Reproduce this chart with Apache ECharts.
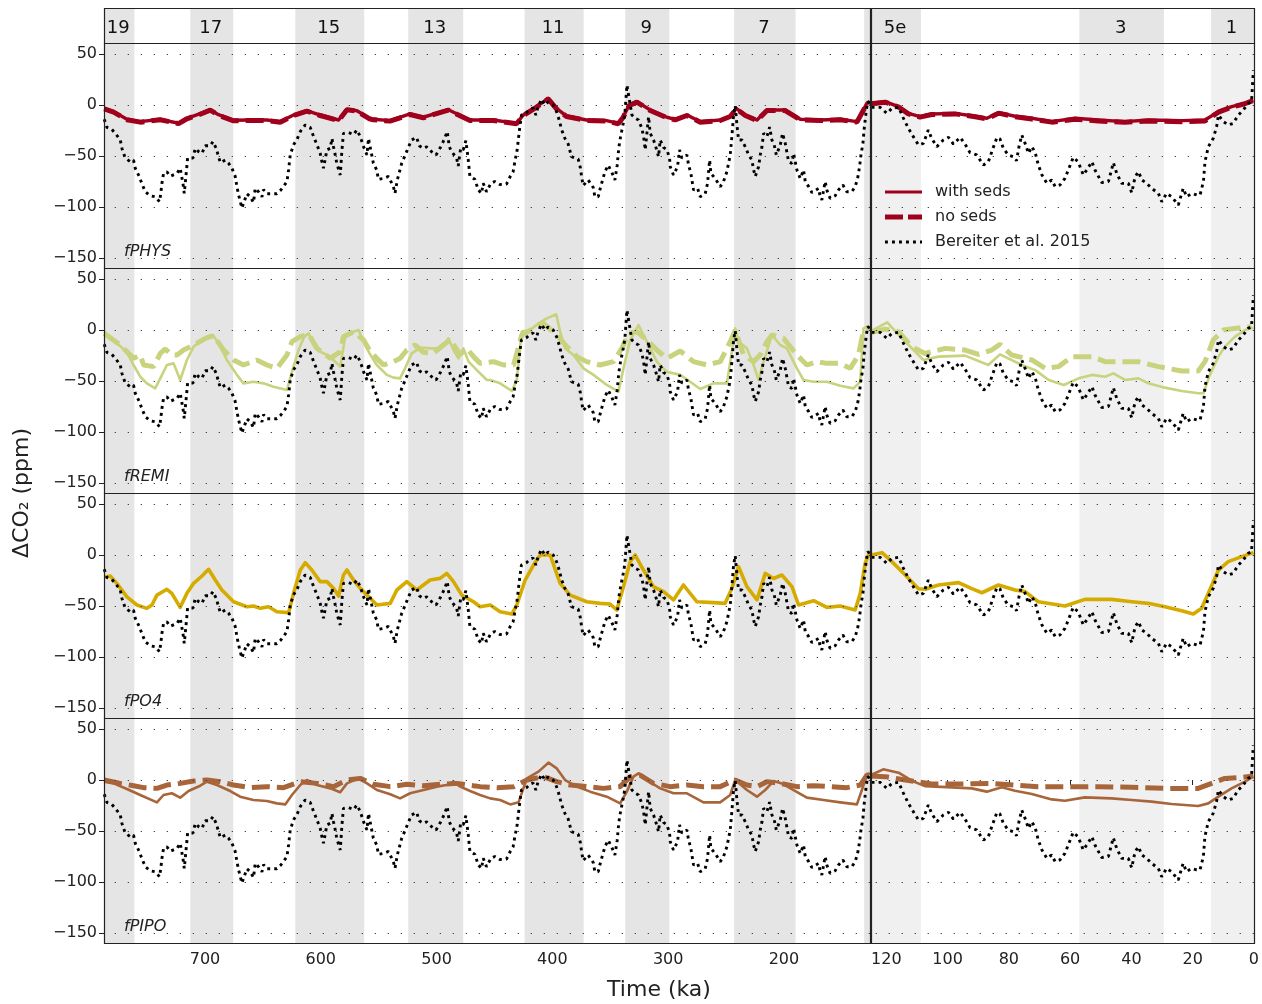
<!DOCTYPE html>
<html><head><meta charset="utf-8">
<script src="https://cdn.jsdelivr.net/npm/echarts@6/dist/echarts.min.js"></script>
<style>html,body{margin:0;padding:0;background:#fff}#c{width:1262px;height:1004px}</style>
</head><body><div id="c"></div>
<script>
// ---------------- DATA ----------------
const yTicks = [-150, -100, -50, 0, 50];
const xTicksLeft = [700, 600, 500, 400, 300, 200];
const xTicksRight = [120, 100, 80, 60, 40, 20, 0];

const bandsLeft = [[787.2,761],[712.7,675.6],[622,562.5],[524.5,477],[424,373],[337,299],[243,190],[130.7,125.7]];
const bandLabelsLeft = ['19','17','15','13','11','9','7',''];
const bandsRight = [[125,108.7],[57,29.4],[14,0]];
const bandLabelsRight = ['5e','3','1'];

const panelNames = ['fPHYS','fREMI','fPO4','fPIPO'];

const bereiterLeft = [[787,-14],[784.7,-21.9],[780.4,-23.9],[777.5,-27.8],[773.2,-34],[771.7,-42.5],[768.9,-52],[764.5,-55.6],[761.7,-54],[760.2,-62],[757.4,-68.6],[754.5,-76.8],[751.6,-85],[747.3,-89],[743,-90],[739.2,-94.8],[738,-85],[737.2,-77],[735.8,-67],[732.9,-65.6],[730,-69.9],[724.2,-67],[721.4,-62],[719,-77],[717.9,-86.6],[715.6,-59.8],[715,-52],[710.4,-52],[708.4,-42.5],[705.5,-45.7],[702.6,-47.4],[699.8,-40],[695.5,-40],[693.1,-35.9],[690.3,-42.5],[686.8,-56.5],[682.5,-54],[679.7,-57],[676.7,-62],[673.9,-70],[672.4,-80],[671,-88],[668.1,-101],[666.7,-102],[663.8,-87],[660.9,-90],[658.1,-95.6],[656.6,-81.7],[653.8,-85],[650.8,-90],[649.4,-83],[646.5,-87],[642.2,-87],[637.9,-87],[635,-84],[632.2,-80],[629.2,-75],[627.8,-63.7],[626.4,-49],[623.5,-39],[620.6,-34],[617.7,-26],[613.4,-19.6],[609.1,-22],[606.2,-31],[603.3,-39],[600.5,-47.4],[599,-55.6],[597.6,-62],[594.7,-44],[591.8,-42.5],[590.4,-32.7],[589,-41],[587.5,-49],[586.1,-57.5],[583.2,-68.6],[581.7,-44],[580.4,-27.8],[576,-27],[571.7,-29],[568.8,-24.5],[565.9,-31],[563,-41],[560.1,-49],
[558.8,-32.7],[557.4,-41],[554.6,-57],[551.7,-63.7],[550.2,-72.9],[545.9,-72],[541.6,-70],[537.3,-80],[535.9,-86.6],[533.9,-73.5],[530.2,-57.5],[527.3,-49.7],[524.4,-41.5],[521.6,-34.3],[517.2,-31.7],[514.9,-40],[511.5,-42.5],[508.6,-41],[504.3,-45.8],[500.5,-49],[497.1,-42.5],[493.6,-34.3],[490.8,-26],[489,-41],[487,-45.8],[482.7,-52],[481.3,-59.8],[479.2,-42.5],[477,-44],[474.7,-35],[472.7,-53],[471.2,-70],[466.9,-72.9],[464,-83.3],[461.2,-86.6],[459.7,-76.8],[456.9,-85],[453.1,-76.8],[449.7,-75],[445.4,-78],[439.6,-77.5],[436.2,-69.6],[433.9,-65.4],[432.4,-55.6],[430.4,-44],[428.7,-27],[426.7,-9.8],[422.4,-7.5],[419.5,-4.2],[416.6,-3],[414.3,-9.8],[412.3,-1.6],[409.4,5.6],[406.5,0],[403.6,3],[399.3,0],[396.4,-6.5],[394.1,-14.7],[392.1,-23.9],[389.2,-32.7],[386.3,-38.3],[383.5,-50.7],[377.7,-53],[375.7,-62],[374.8,-70],[373.4,-79],[369.1,-73.5],[364.7,-80.9],[363.3,-89.9],[360.4,-89.9],[358.4,-80.7],[354.6,-65.4],[351.8,-59],[348.9,-65.4],[346,-73.5],[344.5,-75],[344,-59],[343.1,-47.4],[342.3,-39.3],[341.1,-31],[338.8,-18],[337.4,-8.8],
[335.6,19.6],[334.2,9.8],[331.3,-9.8],[328.5,-13],[325.6,-14.7],[322.7,-23],[321.2,-31],[319.8,-44],[316.9,-11.4],[315.5,-27.8],[312.6,-34.3],[310.3,-42.5],[308.3,-50.7],[306.9,-34.3],[304,-41.5],[301.1,-44],[298.8,-52],[298.2,-60.5],[295.4,-68.6],[291.9,-60.5],[290.2,-44],[288.2,-52],[283.8,-49],[282.4,-58.8],[280.4,-67],[278.1,-83.3],[274.6,-81.7],[272.3,-89.9],[268,-87],[266,-76.8],[264.2,-54],[263.1,-67],[259.4,-72],[255,-80],[252.2,-75],[249.3,-65.4],[246.4,-49],[245,-31],[243.5,-9.8],[242.1,-0.7],[240.6,-19.6],[239.2,-34.3],[236.3,-34.3],[233.4,-41],[230.5,-49],[227.7,-54],[226.2,-63.7],[224.8,-70],[223.3,-71.5],[221.9,-60.5],[220.5,-49],[219,-41],[217.6,-27.8],[214.7,-31],[212.4,-21.6],[210.4,-34.3],[208.4,-39.3],[206.6,-49],[203.2,-39.3],[201.2,-27.8],[198.9,-37.5],[196,-55.6],[193.1,-57.2],[191.7,-47.4],[188.8,-63.7],[185.9,-72],[183.1,-63.7],[181.6,-75],[178.7,-80],[175.9,-85.8],[170.1,-81.7],[168.7,-89.9],[167.3,-93],[164.4,-75],[163,-83.3],[160.1,-91.5],[155.8,-89],[152.9,-83.3],[149.1,-78.4],[145.7,-85],[141.4,-85],[138.5,-80],[136.4,-72],[134.7,-60.5],[133.5,-49],[131.8,-37.5],[130.7,-23],[129.2,-8.2],[127.8,3.3],[125.5,1.6]];

const bereiterRight = [[124.8,-2.3],[122,-2.3],[119.8,-8.2],[118.2,-3.3],[116,-2.3],[114.4,-13],[112.8,-22.9],[111.2,-31],[109.5,-39.2],[107.9,-37.6],[106.3,-24.5],[105.2,-32.7],[103.5,-40.8],[101.4,-34.3],[99.7,-31.7],[98.1,-38.3],[95.9,-31.7],[94.3,-38.3],[92.7,-46.7],[90.5,-49],[88.3,-58.8],[86.7,-55.6],[85.6,-46],[83.9,-31.7],[82.9,-33.3],[81.8,-42.5],[80.2,-49],[78.5,-50.7],[77.5,-54.6],[76.7,-40.8],[75.8,-29.4],[74.7,-37.6],[73.6,-47.4],[72.5,-40.8],[71.4,-46.7],[70.4,-58.8],[69.2,-68.6],[67.6,-76.8],[66,-73.5],[64.9,-80],[63.3,-78.4],[61.7,-71.9],[60.6,-63.7],[59,-51.3],[57.4,-55.6],[55.7,-68.6],[54.6,-63.7],[52.9,-55.6],[51.9,-63.7],[49.7,-76],[47.5,-75],[45.9,-56.5],[44.8,-67],[43.2,-76.8],[41,-76.8],[39.9,-86],[38.8,-70.4],[37.7,-65.4],[36.6,-73.5],[35,-76.8],[33.4,-81.7],[31.2,-86.6],[30.1,-94.8],[28.5,-86.6],[26.9,-89.9],[24.7,-98],[23.1,-81.7],[22,-89.9],[20.3,-86.6],[18.7,-88.2],[17.6,-88.2],[16.5,-75],[16,-55.6],[14.9,-40.8],[13.3,-32.7],[12.2,-21.2],[11.6,-9.8],[10,-16.3],[8.4,-19.6],[6.8,-18],[5.1,-9.8],[3.5,-4.9],[1.9,1.6],[0.8,3.3],[0.6,4.9],[0.2,34]];

const physWithLeft = [[787,-3.3],[778.9,-6.5],[767.4,-14],[755.9,-16.3],[738.6,-14],[722.8,-17.9],[715.6,-13],[704.1,-8.5],[695.5,-4.6],[688.3,-9.5],[675.3,-15],[660.9,-14.7],[646.5,-14.7],[635,-16.3],[623.5,-9.8],[612,-5.6],[600.5,-9.8],[584.6,-14.7],[577.4,-4.2],[568.8,-5.6],[557.9,-13],[554.6,-14],[540.2,-15.3],[522.9,-8.8],[511.5,-12],[489.9,-4.6],[471.2,-14.7],[451.1,-14.7],[430.9,-18],[425.1,-9.8],[413.6,-1.6],[403.6,6.5],[396.4,-3.3],[387.8,-10.8],[370.5,-14.7],[353.2,-15.3],[343.1,-18],[338.8,-11.4],[333.6,0],[327,3.3],[315.5,-4.9],[301.1,-12],[293.9,-14],[283.8,-9.8],[272.3,-16.3],[255,-14.7],[246.4,-10.8],[241.2,-3.3],[233.4,-9.8],[223.3,-14.7],[214.7,-4.9],[206,-4.9],[198.9,-4.9],[185.9,-14],[168.7,-14.7],[151.4,-14],[137,-16.3],[128.4,1.6],[125.7,3]];
const physNoLeft = [[787,-3.8],[778.9,-7],[767.4,-14.5],[755.9,-16.8],[738.6,-14.5],[722.8,-18.2],[715.6,-13.5],[704.1,-9],[695.5,-5],[688.3,-10],[675.3,-15.5],[660.9,-15.2],[646.5,-15.2],[635,-16.8],[623.5,-10.3],[612,-6],[600.5,-10.3],[584.6,-15.2],[577.4,-4.7],[568.8,-6],[557.9,-13.5],[554.6,-14.5],[540.2,-15.8],[522.9,-9.3],[511.5,-12.5],[489.9,-5],[471.2,-15.2],[451.1,-15.2],[430.9,-18.4],[425.1,-10.3],[413.6,-2],[403.6,6],[396.4,-3.8],[387.8,-11.3],[370.5,-15.2],[353.2,-15.8],[343.1,-18.4],[338.8,-11.9],[333.6,-0.5],[327,2.8],[315.5,-5.4],[301.1,-12.5],[293.9,-14.5],[283.8,-10.3],[272.3,-16.8],[255,-15.2],[246.4,-11.3],[241.2,-3.8],[233.4,-10.3],[223.3,-15.2],[214.7,-5.4],[206,-5.4],[198.9,-5.4],[185.9,-14.5],[168.7,-15.2],[151.4,-14.5],[137,-16.8],[128.4,1.1],[125.7,2.5]];
const physWithRight = [[125,1.6],[120.4,3.3],[116,-1.6],[112.8,-8.2],[109,-11.4],[105.2,-8.8],[97.6,-8.2],[91,-11],[87.2,-13],[83.4,-7.5],[78,-11],[72.5,-13],[66,-16.3],[58.4,-13],[50.8,-14.7],[42.1,-16.3],[34.5,-14.7],[23.6,-15.3],[16,-14.7],[11.6,-6.5],[7.3,-1.6],[3,1.6],[0.2,4.9]];
const physNoRight = [[125,1.2],[120.4,2.8],[116,-2],[112.8,-8.7],[109,-11.9],[105.2,-9.3],[97.6,-8.7],[91,-11.5],[87.2,-13.5],[83.4,-8],[78,-11.5],[72.5,-13.8],[66,-16.8],[58.4,-14],[50.8,-15.7],[42.1,-16.8],[34.5,-15.7],[23.6,-16.3],[16,-15.7],[11.6,-7],[7.3,-2],[3,1.2],[0.2,4.5]];

const remiWithLeft = [[787,-1.6],[778.9,-9.8],[767.4,-21.9],[761.7,-34.3],[755.9,-45.8],[750.2,-52.3],[743,-57.2],[738.6,-47.4],[732.9,-34.3],[727.1,-32.7],[721.4,-49],[715.6,-29.4],[709.8,-16.3],[704.1,-10.8],[698.3,-7.5],[693.1,-4.9],[688.3,-13],[681.1,-29.4],[672.4,-44],[666.7,-52.3],[658.1,-50.7],[649.4,-52.3],[640.8,-55.6],[629.2,-58.8],[624.9,-41],[619.2,-19.6],[614.3,-6.5],[610.5,-3.3],[606.2,-14.7],[600.5,-21.2],[594.7,-24.5],[589,-29.4],[583.2,-35.9],[578.9,-6.5],[571.7,-1.6],[567.4,0],[563,-11.4],[557.9,-22.9],[551.6,-34.3],[543,-44],[537.2,-46.7],[531.5,-47.4],[527.2,-37.5],[521.4,-22.9],[514.2,-17.3],[505.6,-18],[499.8,-18],[494.1,-14.7],[489.7,-8.2],[485.4,-19.6],[481.1,-27.8],[476.8,-18],[472.4,-31],[465.2,-39.3],[456.6,-49],[453.7,-49],[445.1,-52.3],[435,-59.8],[430.7,-49],[426.4,-1.6],[419.2,0],[412,6.5],[404.8,11.4],[396.7,15.4],[393.3,-1.6],[389,-18],[381.8,-24.5],[373.1,-37.6],[364.5,-44],[353,-53.9],[342.9,-60.5],[338.6,-37.6],[332.8,-9.8],[325.6,4.9],[318.4,-11.4],[309.8,-31],[301.1,-41],[289.6,-44],[281,-50.7],[272.3,-57.9],[260.8,-52.3],[249.3,-52.3],[245,-21.2],[242.1,1.6],[239.2,-11.4],[232,-18],[226.2,-34.3],[221.9,-49],[217.6,-31],[210.4,-4.9],[203.2,-14.7],[197.5,-18],[188.8,-37.6],[183.1,-49],[174.4,-50.7],[162.9,-50.7],[151.4,-54.6],[139.9,-57.2],[134.1,-50.7],[131.3,1.6],[128.4,3.3]];
const remiNoLeft = [[787,-3.3],[773.2,-14.7],[761.7,-27.8],[755.9,-24.5],[753,-34.3],[744.4,-35.9],[738.6,-22.9],[734.3,-18.6],[728.6,-24.5],[724.2,-24.5],[718.5,-19.6],[709.8,-14.7],[698.3,-7.5],[692.5,-5.6],[683.9,-19.6],[675.3,-29.4],[666.7,-34.3],[655.2,-29.4],[646.5,-34.3],[637.9,-37.6],[629.2,-24.5],[624.9,-11.4],[617.7,-6.5],[610.5,-4.2],[603.3,-18],[591.8,-27.8],[583.2,-21.2],[580.4,-6.5],[571.7,-1.6],[563,-9.8],[557.3,-21.2],[551.6,-27.8],[545.8,-34.3],[537.2,-31],[531.5,-27.8],[525.7,-19.6],[518.5,-14.7],[511.3,-21.9],[502.7,-22.9],[494.1,-14.7],[488.3,-9.8],[479.6,-23.9],[473.9,-18],[468.1,-26.1],[462.3,-32.7],[450.8,-31],[442.1,-34.3],[433.5,-34.3],[426.4,-4.9],[416.3,1.6],[407.7,6.5],[396.2,-4.9],[387.5,-16.3],[378.9,-26.1],[370.3,-31],[358.8,-34.3],[347.2,-31],[340,-18],[334.3,-3.3],[327.1,-1.6],[318.4,-9.8],[309.8,-19.6],[301.1,-27.8],[289.6,-20.6],[278.1,-31],[266.6,-34.3],[255,-31],[246.4,-11.4],[242.1,0],[234.9,-24.5],[226.2,-31],[220.5,-24.5],[214.7,-11.4],[210.4,-4.9],[200.3,-8.2],[188.8,-24.5],[180.2,-34.3],[171.5,-31],[162.9,-32.7],[151.4,-32.7],[142.8,-37.6],[135.6,-24.5],[131.3,0],[126,3]];
const remiWithRight = [[124.7,-0.7],[119.7,7.5],[115.9,-4.9],[107.9,-29.4],[103,-26.1],[94.3,-25.1],[86.7,-34.3],[82.9,-23.9],[75.8,-34.3],[71.4,-39.3],[67,-49],[62.1,-53.9],[57.2,-47.4],[52.9,-44],[48.6,-45.8],[45.9,-42.5],[42.1,-49],[37.7,-47.4],[34.5,-52.3],[29.1,-56.5],[23.6,-59.8],[18.2,-62],[16.5,-62],[14.4,-44],[11.6,-26.1],[9.5,-16.3],[6.2,-6.5],[2.9,0],[0.2,2.3]];
const remiNoRight = [[124.7,-2.3],[120.4,0.9],[116,-1.6],[111.7,-16.3],[107.4,-23],[100.8,-18],[94.3,-19.6],[89.9,-23.9],[85.6,-19.6],[82.9,-14],[79.1,-24.5],[72.5,-29.4],[68.1,-37.6],[63.8,-35.9],[59.4,-26.1],[52.9,-26.1],[48.6,-31],[42.1,-31],[37.7,-31],[31.2,-35.9],[23.6,-40.2],[18.2,-40.2],[16,-31],[13.3,-9.8],[10,0],[6.2,1.6],[0.8,3.3]];

const po4WithLeft = [[787,-21.9],[781.8,-20.6],[776.1,-27.8],[767.4,-41],[758.8,-49],[750.2,-52.3],[745.8,-49],[741.5,-39.3],[732.9,-33.6],[728.6,-37.6],[721.4,-51.3],[715.6,-37.6],[709.8,-27.8],[702.6,-20.6],[696.9,-14],[691.1,-24.5],[685.4,-34.3],[675.3,-45.8],[663.8,-50.7],[658.1,-50],[652.3,-52.3],[645.1,-50.7],[637.9,-55.6],[627.8,-56.5],[623.5,-37.6],[617.7,-14.7],[613.4,-7.5],[607.7,-14.7],[600.5,-26.1],[594.7,-26.1],[589,-32.7],[584.6,-40.2],[580.4,-19.6],[577.4,-14.7],[571.7,-24.5],[565.9,-32.7],[560.1,-39.3],[551.5,-49],[540,-47.4],[534.3,-34.3],[525.7,-26.1],[517.1,-34.3],[505.6,-24.5],[497,-22.9],[491.2,-18],[485.4,-26.1],[478.2,-39.3],[468.1,-45.8],[462.4,-50.7],[453.7,-49],[445.1,-55.6],[435,-57.9],[430.7,-49],[423.5,-24.5],[416.3,-9.8],[410.6,0],[401.9,0],[393.3,-27.8],[384.6,-39.3],[370.3,-45.8],[358.8,-47.4],[350.2,-48],[344.4,-53.9],[338.6,-31],[332.8,-6.5],[328.5,0],[321.3,-14.7],[312.7,-31],[304,-35.9],[295.4,-44],[286.8,-29.4],[275.3,-45.8],[260.8,-46.7],[250.8,-47.4],[245,-32.7],[239.2,-11.4],[232,-31],[223.3,-44],[216.2,-18],[209,-23],[201.8,-19.6],[193.1,-31],[187.4,-49],[174.4,-44.8],[162.9,-51.3],[151.4,-50],[138.5,-53.9],[134.1,-37.6],[129.9,-8.2],[125.7,3.3]];
const po4WithRight = [[125,0],[121.4,2.3],[118.2,-6.5],[113.8,-19.6],[109.5,-33],[107.3,-33.6],[103,-29.4],[96.4,-27.1],[92.1,-33],[88.8,-37],[83.4,-29.4],[78,-34.3],[74.7,-35.9],[70.4,-45.8],[61.7,-50],[55.2,-43.5],[46.5,-43.5],[39.9,-45.8],[34.5,-47.4],[29.1,-50.7],[23.6,-54.6],[19.8,-57.9],[17.1,-52.3],[14.9,-37.6],[11.6,-14.7],[8.4,-6.5],[4,-1.6],[0.2,2.3]];

const pipoWithLeft = [[787,-1.6],[778.9,-3.3],[767.4,-8.8],[755.9,-14.7],[741.5,-21.9],[735.8,-14.7],[728.6,-13],[721.4,-17.3],[714.2,-10.8],[704.1,-5.6],[698.3,-1.6],[689.7,-4.9],[678.2,-10.8],[669.6,-16.3],[658.1,-19.6],[646.5,-20.6],[637.9,-22.9],[630.7,-23.9],[624.9,-14.7],[617.7,-4.9],[612,0],[603.3,-4.9],[591.8,-8.2],[583.2,-12],[577.4,-3.3],[567.4,1.6],[560.1,-3.3],[551.5,-9.8],[540,-14],[531.5,-18],[522.8,-13],[511.3,-9.8],[499.8,-6.5],[491.2,-4.9],[485.4,-1.6],[479.6,-6.5],[471,-10.8],[462.4,-14.7],[453.7,-18],[445.1,-19.6],[436.4,-23.9],[429.2,-21.9],[422,1.6],[412,8.2],[403.4,17],[396.2,11.4],[389,0],[378.9,-6.5],[367.4,-11.4],[353,-16.3],[341.5,-22.9],[335.7,-11.4],[330,3.3],[325.6,6.5],[318.4,0],[306.9,-8.2],[295.4,-13],[283.8,-13],[269.5,-21.9],[255.1,-21.9],[246.4,-14.7],[242.1,0],[232,-9.8],[223.3,-16.3],[216.2,-9.8],[209,-1],[201.8,-3.3],[191.7,-9.8],[180.2,-17.3],[165.8,-19.6],[151.4,-21.9],[137,-23.9],[132.7,-9.8],[128.4,4.9],[125.7,6.5]];
const pipoNoLeft = [[787,0],[773.2,-3.3],[761.7,-5.6],[753,-7.5],[741.5,-8.2],[732.9,-4.9],[721.4,-3.3],[709.8,-1],[698.3,0],[686.8,-1.6],[675.3,-4.9],[660.9,-7.5],[646.5,-6.5],[632.2,-7.5],[617.7,-1.6],[603.3,-3.3],[589,-6.5],[577.4,0],[565.9,1.6],[554.4,-4.2],[540,-6.5],[525.7,-4.2],[511.3,-5.6],[497,-4.2],[482.5,-3.3],[468.1,-5.6],[462.3,-6.5],[447.9,-7.5],[433.5,-6.5],[422,0],[407.7,3.3],[396.2,-1.6],[384.6,-4.9],[370.3,-6.5],[355.9,-8.2],[341.5,-6.5],[332.8,3.3],[324.2,4.9],[312.7,-3.3],[298.2,-6.5],[283.8,-4.9],[269.5,-6.5],[255.1,-6.5],[242.1,0],[232,-4.9],[223.3,-6.5],[214.7,-1.6],[203.2,-3.3],[188.8,-6.5],[174.4,-5.6],[160,-6.5],[145.7,-7.5],[134.1,-4.9],[128.4,4.9],[125.7,5]];
const pipoWithRight = [[125,4.9],[121,10.5],[116,7.2],[111.7,-0.7],[107.4,-6],[98.6,-7.2],[92.1,-8.2],[87.2,-11.4],[82.3,-7.2],[78,-10.5],[72.5,-13.7],[66,-19],[61.7,-20.3],[55.2,-17],[46.5,-18],[39.9,-19.6],[33.4,-21.2],[26.9,-23.5],[18.2,-25.5],[14.9,-22.9],[11.6,-16.3],[7.3,-8.2],[2.9,-1.6],[0.2,3.3]];
const pipoNoRight = [[125,3.9],[120.4,3.3],[113.8,0],[105.2,-3.9],[94.3,-3.9],[85.6,-3.3],[78,-4.9],[70.4,-6.5],[61.7,-6.5],[50.8,-6.5],[39.9,-7.2],[29.1,-8.2],[18.2,-8.2],[13.8,-3.3],[9.5,1.6],[4,2.6],[0.2,3.9]];

// ---------------- STYLE / LAYOUT ----------------
const FONT = 'DejaVu Sans';
const RED = '#a0001c', REMI = '#c9d27d', PO4 = '#d6ab00', PIPO = '#a8653a';
const LX = 104, LW = 766, RX = 871, RW = 383, RH = 225;
const ROWS = [43, 268, 493, 718];
const TOPY = 8, TOPH = 35;
const YMIN = -159.8, YMAX = 60.8;
const LMIN = 125.7, LMAX = 787.2, RMIN = 0, RMAX = 125;

const panels = [
  {color: RED, wl: physWithLeft, nl: physNoLeft, wr: physWithRight, nr: physNoRight},
  {color: REMI, wl: remiWithLeft, nl: remiNoLeft, wr: remiWithRight, nr: remiNoRight},
  {color: PO4, wl: po4WithLeft, nl: null, wr: po4WithRight, nr: null},
  {color: PIPO, wl: pipoWithLeft, nl: pipoNoLeft, wr: pipoWithRight, nr: pipoNoRight}
];

const fmtMinus = v => String(v).replace('-', '\u2212');
const grid = [], xAxis = [], yAxis = [], series = [], graphic = [];

function addPanel(idx, isLeft, row) {
  const left = isLeft ? LX : RX, width = isLeft ? LW : RW, top = ROWS[row];
  grid.push({left: left, top: top, width: width, height: RH});
  const bottom = row === 3;
  xAxis.push({
    type: 'value', gridIndex: idx, min: isLeft ? LMIN : RMIN, max: isLeft ? LMAX : RMAX, inverse: true,
    axisLine: {show: false}, splitLine: {show: false},
    axisTick: {show: bottom, length: 5, lineStyle: {color: '#222'}, customValues: isLeft ? xTicksLeft : xTicksRight},
    axisLabel: {show: bottom, fontSize: 16, fontFamily: FONT, color: '#222', margin: 9, customValues: isLeft ? xTicksLeft : xTicksRight}
  });
  yAxis.push({
    type: 'value', gridIndex: idx, min: YMIN, max: YMAX,
    axisLine: {show: false}, splitLine: {show: false},
    axisTick: {show: true, length: 5, lineStyle: {color: '#222'}, customValues: yTicks},
    axisLabel: {show: isLeft, fontSize: 16, fontFamily: FONT, color: '#222', margin: 7, customValues: yTicks, formatter: fmtMinus}
  });
  const bands = isLeft ? bandsLeft : bandsRight;
  series.push({
    type: 'line', xAxisIndex: idx, yAxisIndex: idx, data: [], z: 1, silent: true,
    markArea: {silent: true, itemStyle: {color: isLeft ? '#e5e5e5' : '#f0f0f0'}, label: {show: false},
      data: bands.map(b => [{xAxis: b[0]}, {xAxis: b[1]}])},
    markLine: {silent: true, symbol: ['none', 'none'], label: {show: false},
      lineStyle: {color: '#444', width: 1.2, type: [1.3, 11.7]},
      data: yTicks.map(v => ({yAxis: v}))}
  });
  const p = panels[row];
  const noData = isLeft ? p.nl : p.nr, withData = isLeft ? p.wl : p.wr;
  if (noData) series.push({
    type: 'line', xAxisIndex: idx, yAxisIndex: idx, data: noData, z: 3, showSymbol: false, silent: true,
    lineStyle: {color: p.color, width: 5, type: [18, 7], cap: 'butt'}
  });
  series.push({
    type: 'line', xAxisIndex: idx, yAxisIndex: idx, data: withData, z: 4, showSymbol: false, silent: true,
    lineStyle: {color: p.color, width: row === 2 ? 3.6 : (row === 0 ? 3.4 : 2.6), join: 'round'}
  });
  series.push({
    type: 'line', xAxisIndex: idx, yAxisIndex: idx, data: isLeft ? bereiterLeft : bereiterRight, z: 5, showSymbol: false, silent: true,
    lineStyle: {color: '#000', width: 2.9, type: [2.9, 4.1], cap: 'butt'}
  });
  graphic.push({type: 'rect', z: 100, shape: {x: left + 0.5, y: top + 0.5, width: width, height: RH},
    style: {fill: 'none', stroke: '#222', lineWidth: 1.2}});
}

for (let r = 0; r < 4; r++) addPanel(r, true, r);
for (let r = 0; r < 4; r++) addPanel(4 + r, false, r);

// top MIS strips
[[true, 8], [false, 9]].forEach(([isLeft, idx]) => {
  const left = isLeft ? LX : RX, width = isLeft ? LW : RW;
  grid.push({left: left, top: TOPY, width: width, height: TOPH});
  xAxis.push({type: 'value', gridIndex: idx, min: isLeft ? LMIN : RMIN, max: isLeft ? LMAX : RMAX, inverse: true, show: false});
  yAxis.push({type: 'value', gridIndex: idx, min: 0, max: 1, show: false});
  const bands = isLeft ? bandsLeft : bandsRight, labels = isLeft ? bandLabelsLeft : bandLabelsRight;
  series.push({
    type: 'line', xAxisIndex: idx, yAxisIndex: idx, data: [], z: 1, silent: true,
    markArea: {silent: true, itemStyle: {color: '#e5e5e5'},
      label: {show: true, position: 'inside', fontSize: 18, fontFamily: FONT, color: '#111', offset: [-1, 3]},
      data: bands.map((b, i) => [{name: labels[i], xAxis: b[0]}, {xAxis: b[1]}])}
  });
  graphic.push({type: 'rect', z: 100, shape: {x: left + 0.5, y: TOPY + 0.5, width: width, height: TOPH},
    style: {fill: 'none', stroke: '#222', lineWidth: 1.2}});
});

// panel labels
panelNames.forEach((n, r) => {
  graphic.push({type: 'text', z: 101, x: 124, y: ROWS[r] + 209,
    style: {text: n, font: 'italic 16px "DejaVu Sans"', fill: '#222', textAlign: 'left', textVerticalAlign: 'middle', align: 'left', verticalAlign: 'middle'}});
});

// axis titles
graphic.push({type: 'text', z: 101, x: 659, y: 990,
  style: {text: 'Time (ka)', font: '22px "DejaVu Sans"', fill: '#222', textAlign: 'center', textVerticalAlign: 'middle', align: 'center', verticalAlign: 'middle'}});
graphic.push({type: 'text', z: 101, x: 22, y: 493, rotation: Math.PI / 2,
  style: {text: '\u0394CO\u2082 (ppm)', font: '22px "DejaVu Sans"', fill: '#222', textAlign: 'center', textVerticalAlign: 'middle', align: 'center', verticalAlign: 'middle'}});

// legend (row 1, right panel)
const legendItems = [
  {label: 'with seds', dash: null, width: 3, color: RED},
  {label: 'no seds', dash: [18, 5], width: 5, color: RED},
  {label: 'Bereiter et al. 2015', dash: [2.9, 4.1], width: 2.9, color: '#000'}
];
legendItems.forEach((it, i) => {
  const y = 192 + i * 25;
  graphic.push({type: 'line', z: 101, shape: {x1: 885, y1: y, x2: 922, y2: y},
    style: {stroke: it.color, lineWidth: it.width, lineDash: it.dash || null, lineCap: 'butt'}});
  graphic.push({type: 'text', z: 101, x: 935, y: y,
    style: {text: it.label, font: '16px "DejaVu Sans"', fill: '#222', textAlign: 'left', textVerticalAlign: 'middle', align: 'left', verticalAlign: 'middle'}});
});

const chart = echarts.init(document.getElementById('c'), null, {renderer: 'canvas'});
chart.setOption({
  animation: false,
  backgroundColor: '#fff',
  textStyle: {fontFamily: FONT},
  grid: grid, xAxis: xAxis, yAxis: yAxis, series: series, graphic: graphic
});
</script></body></html>
